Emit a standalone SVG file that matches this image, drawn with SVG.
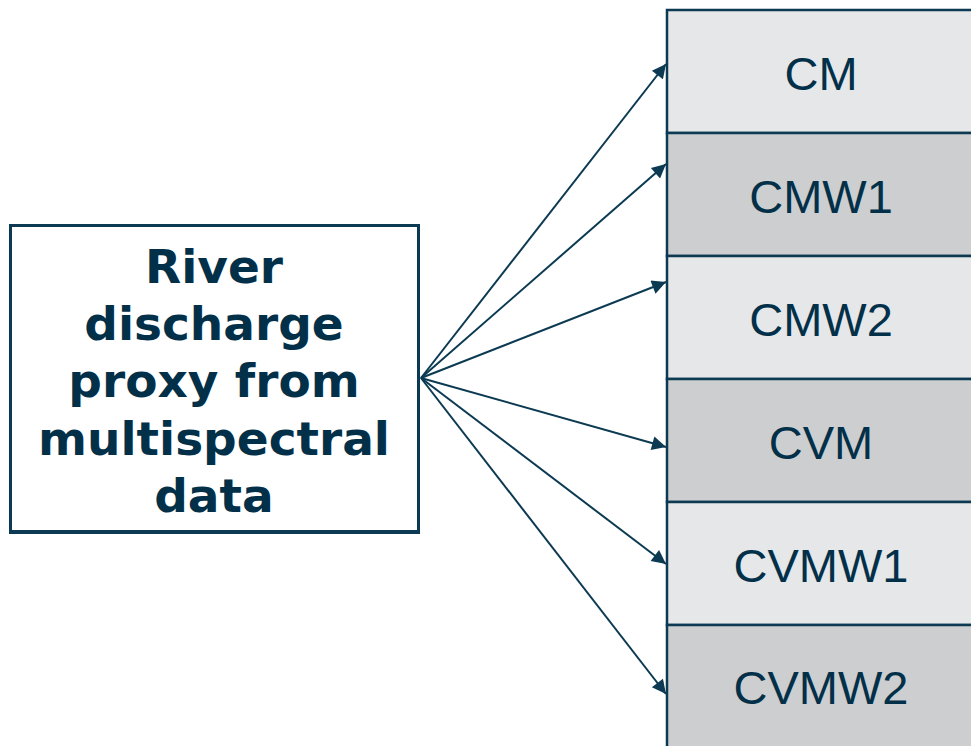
<svg xmlns="http://www.w3.org/2000/svg" width="971" height="746" viewBox="0 0 971 746">
<defs>
<style>
.src{fill:#ffffff;stroke:#0b3a52;stroke-width:3}
.row{stroke:#0b3a52;stroke-width:2.5}
.light{fill:#e6e7e9}
.dark{fill:#cdced0}
.t1{font-family:"DejaVu Sans",Verdana,sans-serif;font-weight:bold;font-size:47px;fill:#033049;text-anchor:middle}
.t2{font-family:"Liberation Sans",Arial,sans-serif;font-size:47px;fill:#033049;text-anchor:middle}
.arr{stroke:#0b3a52;stroke-width:2;fill:none;marker-end:url(#ah)}
</style>
<marker id="ah" viewBox="0 0 10 10" refX="10" refY="5" markerWidth="8" markerHeight="7" markerUnits="strokeWidth" orient="auto">
<path d="M0,0 L10,5 L0,10 z" fill="#0b3a52"/>
</marker>
</defs>
<rect width="971" height="746" fill="#ffffff"/>
<g id="source">
<rect class="src" x="10.5" y="225.5" width="408" height="307"/>
<line x1="9" y1="532" x2="420" y2="532" stroke="#0b3a52" stroke-width="4"/>
<text class="t1" x="214" y="283">River</text>
<text class="t1" x="214" y="340">discharge</text>
<text class="t1" x="214" y="397">proxy from</text>
<text class="t1" x="214" y="455">multispectral</text>
<text class="t1" x="214" y="512">data</text>
</g>
<g id="CM">
<rect class="row light" x="667" y="10" width="310" height="123"/>
<text class="t2" x="821" y="90">CM</text>
</g>
<g id="CMW1">
<rect class="row dark" x="667" y="133" width="310" height="123"/>
<text class="t2" x="821" y="213">CMW1</text>
</g>
<g id="CMW2">
<rect class="row light" x="667" y="256" width="310" height="123"/>
<text class="t2" x="821" y="336">CMW2</text>
</g>
<g id="CVM">
<rect class="row dark" x="667" y="379" width="310" height="123"/>
<text class="t2" x="821" y="459">CVM</text>
</g>
<g id="CVMW1">
<rect class="row light" x="667" y="502" width="310" height="123"/>
<text class="t2" x="821" y="582">CVMW1</text>
</g>
<g id="CVMW2">
<rect class="row dark" x="667" y="625" width="310" height="130"/>
<text class="t2" x="821" y="704">CVMW2</text>
</g>
<g id="connectors">
<line class="arr" x1="421" y1="378" x2="666" y2="64"/>
<line class="arr" x1="421" y1="378" x2="666" y2="164"/>
<line class="arr" x1="421" y1="378" x2="666" y2="282"/>
<line class="arr" x1="421" y1="378" x2="666" y2="447"/>
<line class="arr" x1="421" y1="378" x2="666" y2="564"/>
<line class="arr" x1="421" y1="378" x2="666" y2="694"/>
</g>
</svg>
